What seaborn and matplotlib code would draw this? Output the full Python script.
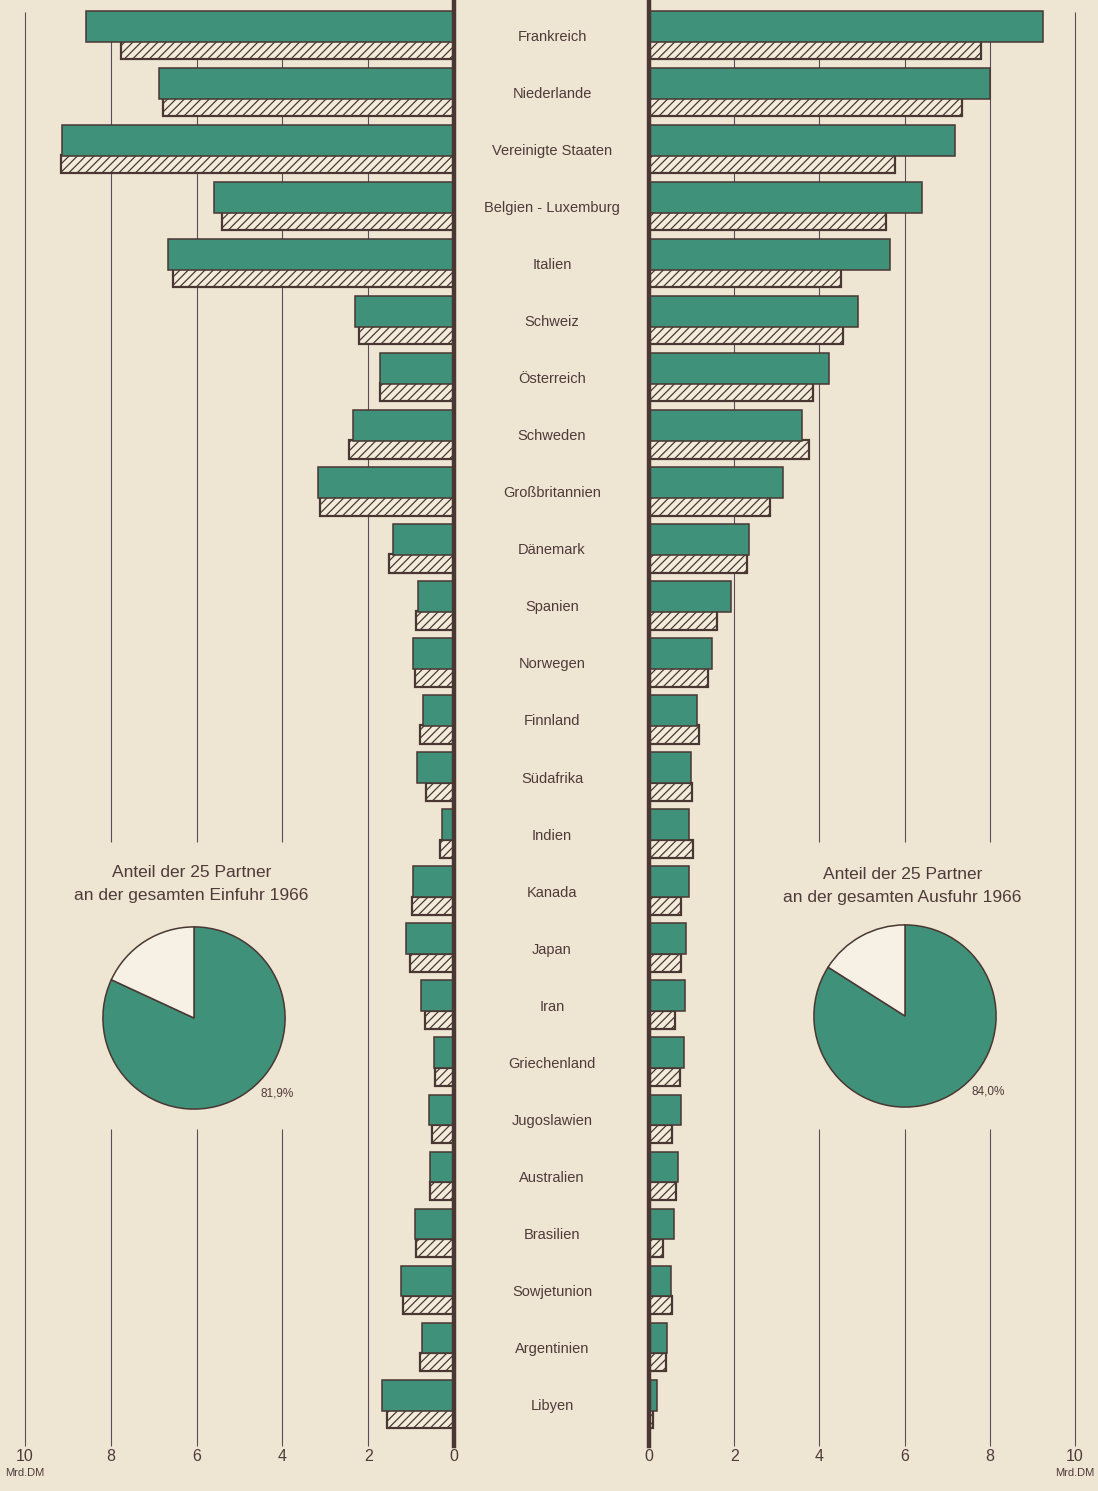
import matplotlib.pyplot as plt
import matplotlib.transforms as mtransforms
import numpy as np
import pandas as pd
import seaborn as sns

# Die 25 wichtigsten Handelspartner, Werte in Mrd. DM (1966 grün, 1965 schraffiert)
laender = ["Frankreich", "Niederlande", "Vereinigte Staaten", "Belgien - Luxemburg",
           "Italien", "Schweiz", "Österreich", "Schweden", "Großbritannien", "Dänemark",
           "Spanien", "Norwegen", "Finnland", "Südafrika", "Indien", "Kanada", "Japan",
           "Iran", "Griechenland", "Jugoslawien", "Australien", "Brasilien",
           "Sowjetunion", "Argentinien", "Libyen"]

einfuhr_1966 = [8.57, 6.87, 9.14, 5.6, 6.67, 2.3, 1.72, 2.35, 3.18, 1.43, 0.85, 0.96,
                0.73, 0.87, 0.27, 0.95, 1.12, 0.76, 0.47, 0.59, 0.57, 0.9, 1.24, 0.74, 1.68]
einfuhr_1965 = [7.77, 6.78, 9.17, 5.4, 6.55, 2.21, 1.73, 2.44, 3.13, 1.52, 0.88, 0.92,
                0.79, 0.66, 0.33, 0.99, 1.03, 0.68, 0.44, 0.52, 0.56, 0.88, 1.18, 0.8, 1.56]
ausfuhr_1966 = [9.25, 8.0, 7.19, 6.42, 5.65, 4.91, 4.23, 3.6, 3.14, 2.35, 1.92, 1.49,
                1.12, 0.98, 0.93, 0.93, 0.86, 0.84, 0.82, 0.75, 0.68, 0.58, 0.51, 0.42, 0.19]
ausfuhr_1965 = [7.79, 7.35, 5.77, 5.56, 4.51, 4.56, 3.84, 3.76, 2.83, 2.3, 1.59, 1.38,
                1.17, 1.02, 1.04, 0.75, 0.75, 0.61, 0.72, 0.54, 0.63, 0.33, 0.55, 0.41, 0.09]

anteil_einfuhr = [81.9, 18.1]
anteil_ausfuhr = [84.0, 16.0]
achse = [0, 2, 4, 6, 8, 10]

sns.set_theme(style="white")
plt.rcParams["font.family"] = ["Liberation Sans", "DejaVu Sans"]
plt.rcParams["hatch.linewidth"] = 0.9

papier = "#eee6d2"
hell = "#f3ecdb"
weiss = "#f6f1e4"
gruen = "#3f9179"
braun = "#4a3733"
linie = "#5e4a5c"
schrift = "#4f3a3a"

W, H = 1098, 1491
fig = plt.figure(figsize=(W / 100, H / 100), dpi=100, facecolor=papier)


def px(x0, y0, x1, y1):
    return [x0 / W, 1 - y1 / H, (x1 - x0) / W, (y1 - y0) / H]


df = pd.DataFrame({"land": laender,
                   "ein66": einfuhr_1966, "ein65": einfuhr_1965,
                   "aus66": ausfuhr_1966, "aus65": ausfuhr_1965})
df["pos"] = np.arange(len(df))

zeile = 57.04  # Pixel pro Zeile
unten = 1446
y_top = -37 / zeile
y_bot = (unten - 37) / zeile
g_start = (12 - 37) / zeile
luecke = ((842 - 37) / zeile, (1129 - 37) / zeile)

ax_ein = fig.add_axes(px(25, 0, 454, unten))
ax_aus = fig.add_axes(px(649, 0, 1075, unten))

for ax, c66, c65, xlim, spine in [(ax_ein, "ein66", "ein65", (10, 0), "right"),
                                  (ax_aus, "aus66", "aus65", (0, 10), "left")]:
    ax.set_facecolor("none")
    for x in achse[1:]:
        if x in (4, 6, 8):
            segs = [(g_start, luecke[0]), (luecke[1], y_bot)]
        else:
            segs = [(g_start, y_bot)]
        for a, b in segs:
            ax.vlines(x, a, b, color=linie, lw=0.8, zorder=1, clip_on=False)

    sns.barplot(x=df[c65], y=df["pos"] + 0.23, orient="h", native_scale=True,
                width=0.32, color=hell, edgecolor=braun, linewidth=1.6, hatch="////",
                saturation=1, errorbar=None, ax=ax, zorder=2)
    sns.barplot(x=df[c66], y=df["pos"] - 0.19, orient="h", native_scale=True,
                width=0.54, color=gruen, edgecolor=braun, linewidth=1.1,
                saturation=1, errorbar=None, ax=ax, zorder=3)

    ax.set_xlim(xlim)
    ax.set_ylim(y_bot, y_top)
    ax.set(xlabel="", ylabel="")
    ax.set_yticks([])
    ax.set_xticks(achse)
    ax.set_xticklabels([str(a) for a in achse])
    ax.tick_params(axis="x", length=0, pad=2, labelsize=11.5, labelcolor=schrift)
    for s in ax.spines:
        ax.spines[s].set_visible(s == spine)
    ax.spines[spine].set_linewidth(3.2)
    ax.spines[spine].set_color(braun)
    ax.spines[spine].set_zorder(4)
    ax.text(10, -0.019, "Mrd.DM", transform=ax.get_xaxis_transform(),
            ha="center", va="center", fontsize=8, color=schrift)

# Ländernamen in der Mitte
trans = mtransforms.blended_transform_factory(fig.transFigure, ax_ein.transData)
for p, name in zip(df["pos"], df["land"]):
    ax_ein.text(552 / W, p, name, transform=trans, ha="center", va="center",
                fontsize=10.5, color=schrift, clip_on=False)

# Kreisdiagramme
for anteil, cx, cy, titel, ty in [
        (anteil_einfuhr, 194, 1018, "Anteil der 25 Partner\nan der gesamten Einfuhr 1966", 1.47),
        (anteil_ausfuhr, 905, 1016, "Anteil der 25 Partner\nan der gesamten Ausfuhr 1966", 1.43)]:
    pax = fig.add_axes(px(cx - 92, cy - 92, cx + 92, cy + 92))
    pax.pie(anteil, colors=[gruen, weiss], startangle=90, counterclock=False,
            wedgeprops=dict(edgecolor=braun, linewidth=1.1))
    pax.set_xlim(-1.01, 1.01)
    pax.set_ylim(-1.01, 1.01)
    pax.set_aspect("equal")
    pax.text(-0.03, ty, titel, ha="center", va="center", fontsize=12.5,
             color=schrift, linespacing=1.65, clip_on=False)
    pax.text(0.91, -0.83, f"{anteil[0]:.1f}%".replace(".", ","), ha="center",
             va="center", fontsize=8.5, color=schrift, clip_on=False)

fig.savefig("out.png", dpi=100, facecolor=papier)
